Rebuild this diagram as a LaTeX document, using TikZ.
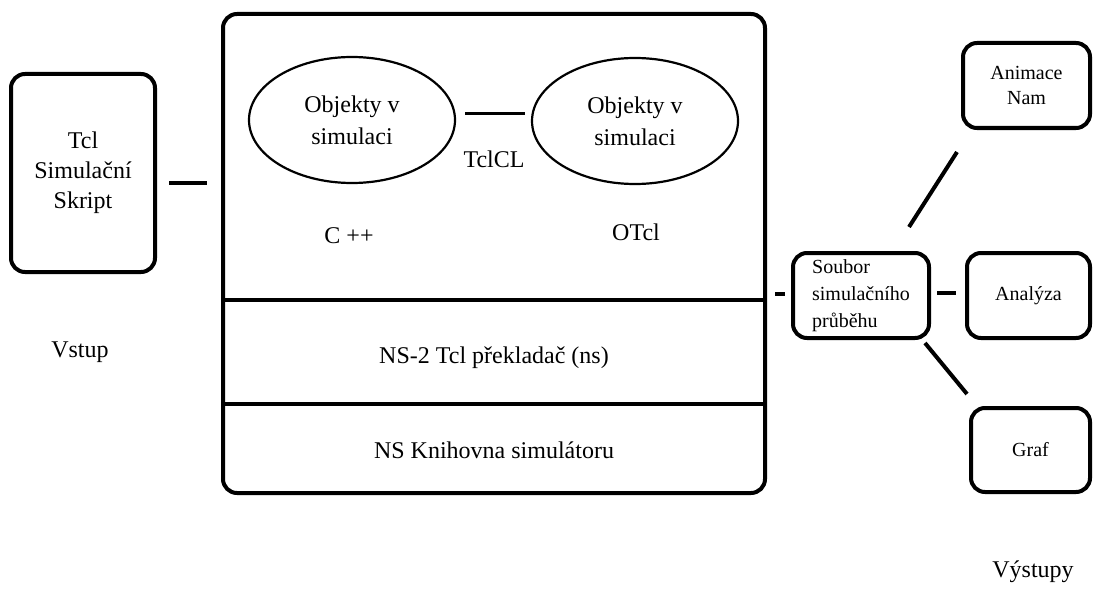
\documentclass[tikz,border=0pt]{standalone}
\usepackage{fontspec}
\setmainfont{Liberation Serif}
\usetikzlibrary{shapes.geometric}

\begin{document}
\begin{tikzpicture}[x=1pt, y=-1pt,
    B/.style = {rectangle, draw, line width=4pt, rounded corners=14pt,% boxes
                align=center, inner sep=0pt,
                font=\fontsize{24}{30}\selectfont},
    S/.style = {B, font=\fontsize{20}{25}\selectfont},% smaller boxes on the right
    E/.style = {ellipse, draw, line width=2.2pt, inner sep=0pt,% objects
                minimum width=206pt, minimum height=126pt, align=center,
                font=\fontsize{24}{32}\selectfont},
    T/.style = {align=center, inner sep=0pt,% plain labels
                font=\fontsize{24}{30}\selectfont},
    C/.style = {line width=4pt},
                        ]
\useasboundingbox (0,0) rectangle (1094,591);
% input
\node[B, minimum width=144pt, minimum height=198pt] (skript) at (83,173)
    {Tcl\\Simulační\\Skript};
\node[T] (vstup) at (80,352) {Vstup};
% simulator
\node[B, minimum width=542pt, minimum height=479pt] (ns) at (494,253.5) {};
\node[E] (cpp)  at (352,120) {Objekty v\\simulaci};
\node[E] (otcl) at (635,121) {Objekty v\\simulaci};
\node[T] (tclcl)   at (494,159) {TclCL};
\node[T] (cpplbl)  at (349,236) {C ++};
\node[T] (otcllbl) at (636,232) {OTcl};
\coordinate (d1) at (0,300);
\coordinate (d2) at (0,404);
\draw[C] (ns.west |- d1) -- (ns.east |- d1);
\draw[C] (ns.west |- d2) -- (ns.east |- d2);
\node[T] (prekl) at (494,358) {NS-2 Tcl překladač (ns)};
\node[T] (knih)  at (494,450) {NS Knihovna simulátoru};
% outputs
\node[S, minimum width=136pt, minimum height=85pt, align=left,
      font=\fontsize{20}{27}\selectfont] (soubor) at (861,295.5)
    {Soubor\\simulačního\\průběhu};
\node[S, minimum width=127pt, minimum height=85pt] (animace) at (1026.5,85.5)
    {Animace\\Nam};
\node[S, minimum width=123pt, minimum height=85pt] (analyza) at (1028.5,295.5)
    {Analýza};
\node[S, minimum width=119pt, minimum height=84pt] (graf) at (1030.5,450)
    {Graf};
\node[T] (vystupy) at (1033,572) {Výstupy};
% connectors
\draw[line width=3pt, shorten <=9pt, shorten >=6pt] (cpp.east |- 0,114) -- (otcl.west |- 0,114);
\draw[C, shorten <=12pt, shorten >=14pt]
    ([yshift=-10pt]skript.east) -- ([yshift=-10pt]skript.east -| ns.west);
\draw[C, shorten <=8pt, shorten >=6pt]
    ([yshift=2pt]soubor.west -| ns.east) -- ([yshift=2pt]soubor.west);
\draw[C, shorten <=6pt, shorten >=9pt]
    ([yshift=3pt]soubor.east) -- ([yshift=3pt]soubor.east -| analyza.west);
\coordinate (a1) at (909,227);
\coordinate (a2) at (957,152);
\coordinate (g1) at (925,343);
\coordinate (g2) at (967,394);
\draw[C] (a1) -- (a2);
\draw[C] (g1) -- (g2);
\end{tikzpicture}
\end{document}
